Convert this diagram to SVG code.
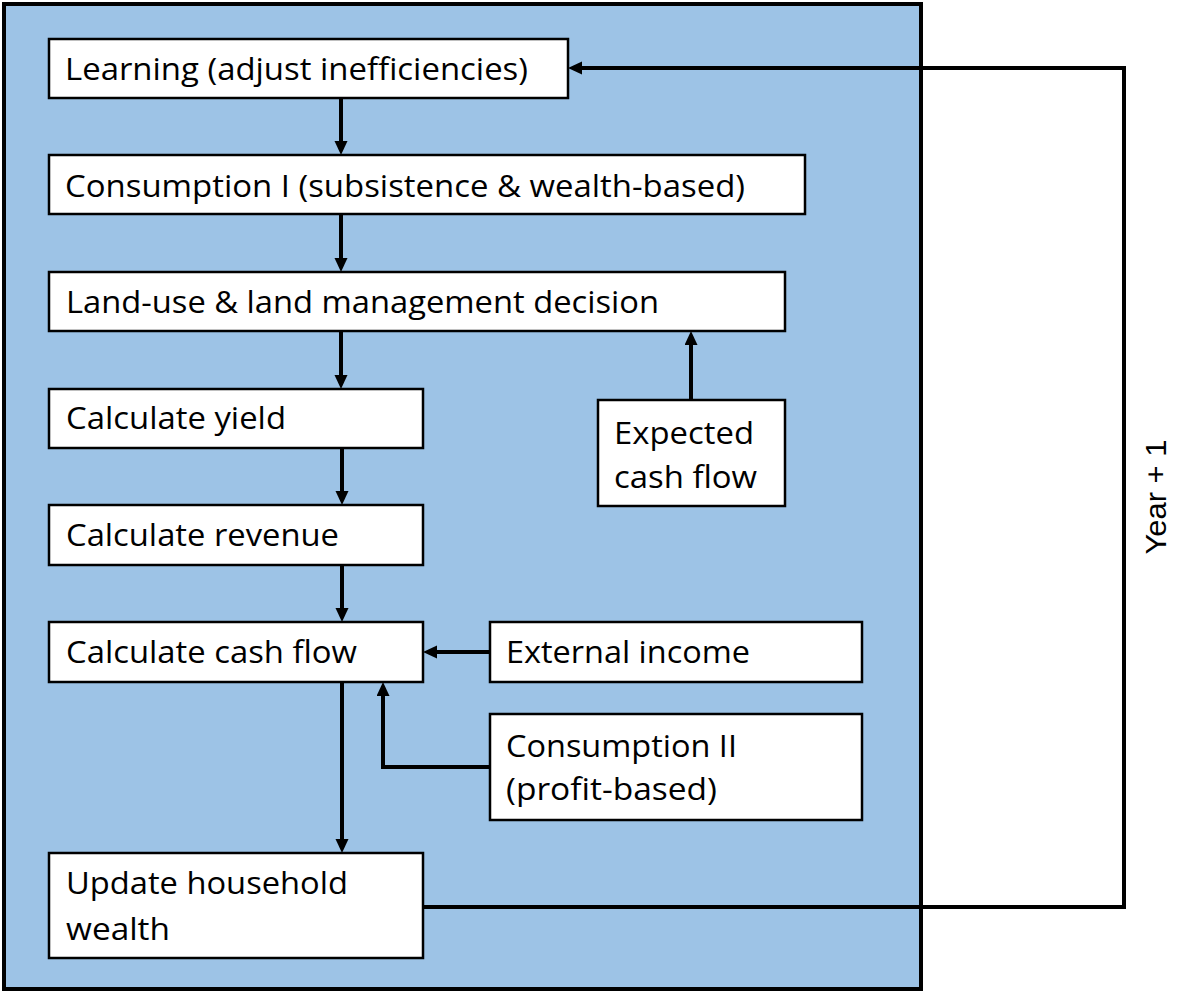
<svg xmlns="http://www.w3.org/2000/svg" width="1200" height="993" viewBox="0 0 1200 993">
<style>
.box{fill:#fff;stroke:#000;stroke-width:2.5}
.t{font-family:"Open Sans","Liberation Sans",sans-serif;font-size:31px;fill:#000}
.c{fill:none;stroke:#000;stroke-width:4}
</style>
<defs>
<marker id="ah" markerUnits="userSpaceOnUse" markerWidth="16" markerHeight="14" refX="2" refY="6.5" orient="auto">
<path d="M0,0 L14,6.5 L0,13 z" fill="#000"/>
</marker>
</defs>
<rect x="0" y="0" width="1200" height="993" fill="#fff"/>
<rect id="panel" x="4" y="4" width="917" height="985" fill="#9DC3E6" stroke="#000" stroke-width="4"/>
<g id="connectors">
<path class="c" d="M341,98 V143" marker-end="url(#ah)"/>
<path class="c" d="M341,214 V260" marker-end="url(#ah)"/>
<path class="c" d="M341,331 V377" marker-end="url(#ah)"/>
<path class="c" d="M342,448 V493" marker-end="url(#ah)"/>
<path class="c" d="M342,565 V610" marker-end="url(#ah)"/>
<path class="c" d="M342,682 V841" marker-end="url(#ah)"/>
<path class="c" d="M691,400 V343" marker-end="url(#ah)"/>
<path class="c" d="M490,652 H435" marker-end="url(#ah)"/>
<path class="c" d="M490,767 H383 V694" marker-end="url(#ah)"/>
<path class="c" d="M423,907 H1124 V68 H580" marker-end="url(#ah)"/>
</g>
<g id="learning"><rect class="box" x="49" y="39" width="519" height="59"/><text class="t" x="65" y="80" textLength="463" lengthAdjust="spacingAndGlyphs">Learning (adjust inefficiencies)</text></g>
<g id="consumption1"><rect class="box" x="49" y="155" width="756" height="59"/><text class="t" x="65" y="197" textLength="680" lengthAdjust="spacingAndGlyphs">Consumption I (subsistence &amp; wealth-based)</text></g>
<g id="landuse"><rect class="box" x="49" y="272" width="736" height="59"/><text class="t" x="66" y="313" textLength="593" lengthAdjust="spacingAndGlyphs">Land-use &amp; land management decision</text></g>
<g id="yield"><rect class="box" x="49" y="389" width="374" height="59"/><text class="t" x="66" y="429" textLength="220" lengthAdjust="spacingAndGlyphs">Calculate yield</text></g>
<g id="revenue"><rect class="box" x="49" y="505" width="374" height="60"/><text class="t" x="66" y="546" textLength="273" lengthAdjust="spacingAndGlyphs">Calculate revenue</text></g>
<g id="cashflow"><rect class="box" x="49" y="622" width="374" height="60"/><text class="t" x="66" y="663" textLength="291" lengthAdjust="spacingAndGlyphs">Calculate cash flow</text></g>
<g id="wealth"><rect class="box" x="49" y="853" width="374" height="105"/><text class="t" x="66" y="894" textLength="282" lengthAdjust="spacingAndGlyphs">Update household</text><text class="t" x="66" y="940" textLength="104" lengthAdjust="spacingAndGlyphs">wealth</text></g>
<g id="expected"><rect class="box" x="598" y="400" width="187" height="106"/><text class="t" x="614" y="444" textLength="140" lengthAdjust="spacingAndGlyphs">Expected</text><text class="t" x="614" y="488" textLength="143" lengthAdjust="spacingAndGlyphs">cash flow</text></g>
<g id="external"><rect class="box" x="490" y="622" width="372" height="60"/><text class="t" x="506" y="663" textLength="244" lengthAdjust="spacingAndGlyphs">External income</text></g>
<g id="consumption2"><rect class="box" x="490" y="714" width="372" height="106"/><text class="t" x="506" y="757" textLength="231" lengthAdjust="spacingAndGlyphs">Consumption II</text><text class="t" x="506" y="800" textLength="211" lengthAdjust="spacingAndGlyphs">(profit-based)</text></g>
<g id="year-label"><text x="1166" y="497" transform="rotate(-90 1166 497)" text-anchor="middle" font-family="'Liberation Sans',Arial,sans-serif" font-size="29" fill="#000" textLength="115" lengthAdjust="spacingAndGlyphs">Year + 1</text></g>
</svg>
